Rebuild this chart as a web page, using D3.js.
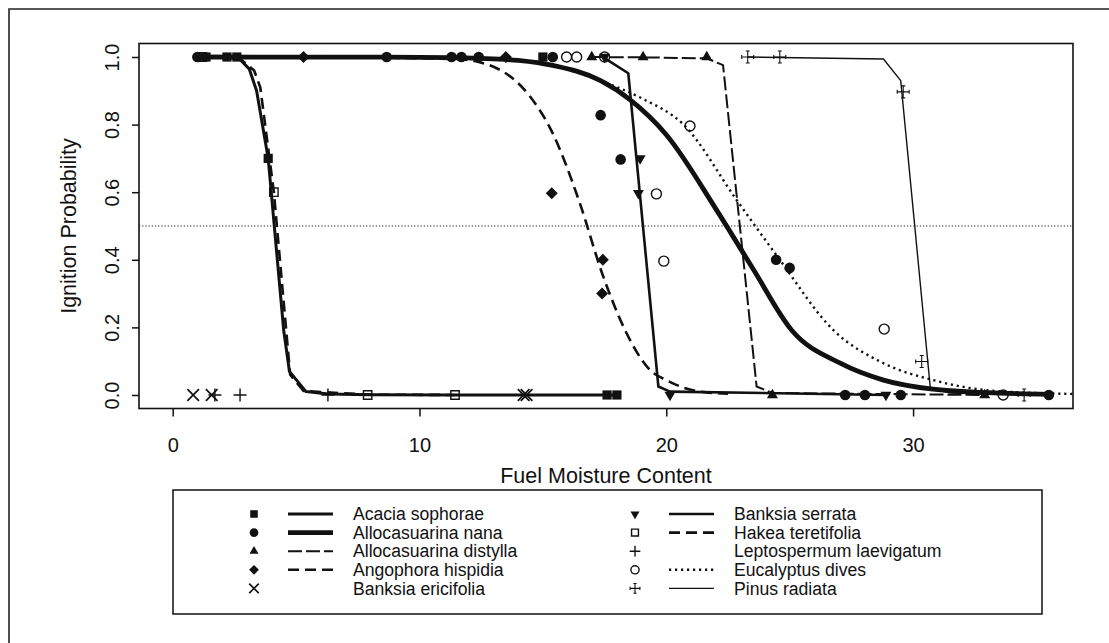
<!DOCTYPE html>
<html><head><meta charset="utf-8">
<script src="https://cdn.jsdelivr.net/npm/d3@7"></script>
<style>
body{margin:0;background:#fff}
svg{display:block}
text{font-family:"Liberation Sans",Arimo,Arial,Helvetica,sans-serif;fill:#111}
</style>
</head><body>
<svg id="c" width="1109" height="643"></svg>
<script>
// ---------------- DATA ----------------
const speciesNames = ["Acacia sophorae","Allocasuarina nana","Allocasuarina distylla","Angophora hispidia","Banksia ericifolia",
                      "Banksia serrata","Hakea teretifolia","Leptospermum laevigatum","Eucalyptus dives","Pinus radiata"];
const xTicks = [0, 10, 20, 30];
const yTicks = [0.0, 0.2, 0.4, 0.6, 0.8, 1.0];
const xAxisTitle = "Fuel Moisture Content";
const yAxisTitle = "Ignition Probability";
const refLevel = 0.5;

// observed points [moisture, ignition]
const acaciaPoints     = [[1.35,1],[2.2,1],[2.6,1],[3.87,0.70],[15.0,1],[17.6,0],[18.0,0]];
const nanaPoints       = [[1.0,1],[8.67,1],[11.3,1],[11.7,1],[12.4,1],[15.4,1],[17.34,0.828],[18.15,0.697],[24.45,0.40],[25.0,0.376],[27.25,0],[28.05,0],[29.5,0],[35.5,0]];
const distyllaPoints   = [[16.98,1],[19.06,1],[21.64,1],[24.3,0],[32.9,0]];
const angophoraPoints  = [[5.3,1],[13.5,1],[15.36,0.597],[17.43,0.40],[17.4,0.30]];
const ericifoliaPoints = [[0.83,0],[1.58,0],[14.22,0],[14.34,0]];
const serrataPoints    = [[17.5,1],[18.94,0.70],[18.87,0.597],[20.15,0],[28.9,0]];
const hakeaPoints      = [[1.2,1],[4.1,0.60],[7.9,0],[11.44,0]];
const leptoPoints      = [[1.71,0],[2.73,0],[6.29,0]];
const divesPoints      = [[15.96,1],[16.37,1],[17.5,1],[19.6,0.595],[19.9,0.396],[20.96,0.796],[28.83,0.195],[33.65,0]];
const pinusPoints      = [[23.3,1],[24.6,1],[29.6,0.897],[30.35,0.099],[34.5,0]];

// fitted curves [moisture, probability]
const acaciaCurve    = [[1.35,1],[2.2,1],[2.7,0.995],[3.1,0.965],[3.4,0.90],[3.87,0.70],[4.5,0.19],[4.73,0.07],[5.4,0.01],[6.3,0.003],[8,0.001],[11.4,0],[17.6,0],[18,0]];
const nanaCurve      = [[1.0,1],[8.67,0.9995],[11.3,0.998],[12.4,0.996],[14.0,0.99],[15.4,0.975],[17.34,0.93],[18.54,0.873],[20.0,0.77],[22.04,0.547],[23.5,0.375],[25.1,0.19],[27.05,0.094],[28.8,0.044],[30.8,0.017],[33,0.007],[35.5,0.002]];
const distyllaCurve  = [[16.98,1],[19.06,0.999],[21.64,0.996],[22.3,0.976],[23.66,0.025],[24.3,0.006],[32.9,0]];
const angophoraCurve = [[5.3,1],[11.5,0.994],[13.0,0.971],[14.48,0.883],[15.36,0.78],[16.5,0.567],[17.4,0.36],[18.33,0.192],[19.34,0.074],[20.0,0.044],[21.37,0.01],[22.5,0.004]];
const serrataCurve   = [[17.5,0.997],[18.46,0.952],[19.68,0.025],[20.15,0.01],[28.9,0]];
const hakeaCurve     = [[1.2,1],[2.7,0.997],[3.3,0.96],[3.55,0.91],[4.1,0.60],[4.76,0.06],[5.3,0.012],[7.9,0.001],[11.44,0]];
const divesCurve     = [[15.96,0.965],[17.5,0.925],[19.0,0.878],[20.7,0.80],[22.85,0.577],[24.5,0.41],[26.77,0.192],[28.8,0.094],[30.82,0.044],[32.85,0.015],[35.0,0.006],[36.45,0.003]];
const pinusCurve     = [[23.3,1],[28.8,0.994],[29.5,0.93],[30.7,0.02],[31.5,0.006],[34.5,0]];

const pointsBySpecies = [acaciaPoints,nanaPoints,distyllaPoints,angophoraPoints,ericifoliaPoints,serrataPoints,hakeaPoints,leptoPoints,divesPoints,pinusPoints];
const curvesBySpecies = [acaciaCurve,nanaCurve,distyllaCurve,angophoraCurve,null,serrataCurve,hakeaCurve,null,divesCurve,pinusCurve];

// ---------------- STYLE ----------------
const styles = [
  {sym:"fsquare", w:3.0, dash:null, curve:"linear"},
  {sym:"fcircle", w:4.8, dash:null, curve:"smooth"},
  {sym:"ftriup",  w:2.0, dash:"14,4", curve:"linear"},
  {sym:"fdiamond",w:2.6, dash:"11,6", curve:"smooth"},
  {sym:"times",   w:0},
  {sym:"ftridown",w:2.6, dash:null, curve:"linear"},
  {sym:"osquare", w:2.6, dash:"11,6", curve:"linear"},
  {sym:"plus",    w:0},
  {sym:"ocircle", w:2.4, dash:"2.2,3.8", curve:"smooth"},
  {sym:"pinus",   w:1.4, dash:null, curve:"linear"}
];

const svg = d3.select("#c");
const x = d3.scaleLinear().domain([-1.365, 36.48]).range([139, 1073]);
const y = d3.scaleLinear().domain([-0.04, 1.04]).range([408.5, 43.5]);

// outer frame (partial, as cropped)
svg.append("path").attr("d","M9,643V9H1109").attr("fill","none").attr("stroke","#222").attr("stroke-width",1.6);

// symbol drawing
function drawSymbol(g, type, cx, cy, k){
  k = k || 1;
  const t = `translate(${cx},${cy})`;
  const ink = "#111";
  if(type==="fsquare"){ const s=4.6*k; g.append("path").attr("transform",t).attr("d",`M${-s},${-s}H${s}V${s}H${-s}Z`).attr("fill",ink); }
  else if(type==="fcircle"){ const r=5.3*k; g.append("circle").attr("cx",cx).attr("cy",cy).attr("r",r).attr("fill",ink); }
  else if(type==="ftriup"||type==="ftridown"){ const a=11*k, h=a*0.866, sg=type==="ftriup"?1:-1;
    g.append("path").attr("transform",t).attr("d",`M0,${-sg*2*h/3}L${a/2},${sg*h/3}L${-a/2},${sg*h/3}Z`).attr("fill",ink); }
  else if(type==="fdiamond"){ const r=6*k; g.append("path").attr("transform",t).attr("d",`M0,${-r}L${r},0L0,${r}L${-r},0Z`).attr("fill",ink); }
  else if(type==="times"){ const r=5.8*k; g.append("path").attr("transform",t).attr("d",`M${-r},${-r}L${r},${r}M${r},${-r}L${-r},${r}`).attr("stroke",ink).attr("stroke-width",1.7).attr("fill","none"); }
  else if(type==="plus"){ const r=6.5*k; g.append("path").attr("transform",t).attr("d",`M${-r},0H${r}M0,${-r}V${r}`).attr("stroke",ink).attr("stroke-width",1.4).attr("fill","none"); }
  else if(type==="osquare"){ const s=4.2*k; g.append("path").attr("transform",t).attr("d",`M${-s},${-s}H${s}V${s}H${-s}Z`).attr("stroke",ink).attr("stroke-width",1.4).attr("fill","none"); }
  else if(type==="ocircle"){ const r=5*k; g.append("circle").attr("cx",cx).attr("cy",cy).attr("r",r).attr("stroke",ink).attr("stroke-width",1.4).attr("fill","none"); }
  else if(type==="pinus"){ const r=6*k, e=2*k; g.append("path").attr("transform",t)
      .attr("d",`M${-r},0H${r}M0,${-r}V${r}M${-e},${-r}H${e}M${-e},${r}H${e}M${-r},${-e}V${e}M${r},${-e}V${e}`)
      .attr("stroke",ink).attr("stroke-width",1.1).attr("fill","none"); }
}

// plot box
svg.append("rect").attr("x",x.range()[0]).attr("y",y.range()[1])
   .attr("width",x.range()[1]-x.range()[0]).attr("height",y.range()[0]-y.range()[1])
   .attr("fill","none").attr("stroke","#111").attr("stroke-width",1.6);

// reference line at 0.5
svg.append("line").attr("x1",x.range()[0]).attr("x2",x.range()[1]).attr("y1",y(refLevel)).attr("y2",y(refLevel))
   .attr("stroke","#222").attr("stroke-width",1).attr("stroke-dasharray","1.2,2");

// axes
const gx = svg.append("g").attr("transform",`translate(0,${y.range()[0]})`)
  .call(d3.axisBottom(x).tickValues(xTicks).tickSize(8).tickFormat(d3.format("d")));
gx.select(".domain").remove();
gx.selectAll("line").attr("stroke","#111").attr("stroke-width",1.5);
gx.selectAll("text").attr("y",36.5).attr("dy","0.35em").style("font-size","20px").attr("fill","#111");

const gy = svg.append("g").attr("transform",`translate(${x.range()[0]},0)`)
  .call(d3.axisLeft(y).tickValues(yTicks).tickSize(7).tickFormat(d3.format(".1f")));
gy.select(".domain").remove();
gy.selectAll("line").attr("stroke","#111").attr("stroke-width",1.5);
gy.selectAll("text").attr("x",0).attr("dy","0.35em").attr("text-anchor","middle")
  .attr("transform","translate(-27,0) rotate(-90)").style("font-size","20px").attr("fill","#111");

svg.append("text").attr("x",(x.range()[0]+x.range()[1])/2).attr("y",475).attr("dy","0.35em")
   .attr("text-anchor","middle").style("font-size","21.5px").text(xAxisTitle);
svg.append("text").attr("transform",`translate(68,${(y.range()[0]+y.range()[1])/2}) rotate(-90)`).attr("dy","0.35em")
   .attr("text-anchor","middle").style("font-size","21.5px").text(yAxisTitle);

// curves
const plot = svg.append("g");
curvesBySpecies.forEach((c,i)=>{
  if(!c) return;
  const st = styles[i];
  const line = d3.line().x(d=>x(d[0])).y(d=>y(d[1])).curve(st.curve==="smooth"?d3.curveMonotoneX:d3.curveLinear);
  plot.append("path").attr("d",line(c)).attr("fill","none").attr("stroke","#111")
      .attr("stroke-width",st.w).attr("stroke-dasharray",st.dash).attr("stroke-linejoin","round");
});
// points
pointsBySpecies.forEach((p,i)=>{
  p.forEach(d=>drawSymbol(plot, styles[i].sym, x(d[0]), y(d[1]), 1));
});

// legend
const legX0 = 173, legX1 = 1042, legY0 = 490, legY1 = 614;
svg.append("rect").attr("x",legX0).attr("y",legY0).attr("width",legX1-legX0).attr("height",legY1-legY0)
   .attr("fill","none").attr("stroke","#111").attr("stroke-width",1.5);
const cols = [{sym:254, l0:288, l1:333, tx:353},{sym:635, l0:669, l1:714, tx:734}];
const leg = svg.append("g");
speciesNames.forEach((name,i)=>{
  const c = cols[Math.floor(i/5)], ry = 514 + (i%5)*18.6, st = styles[i];
  drawSymbol(leg, st.sym, c.sym, ry, 0.82);
  if(st.w>0) leg.append("line").attr("x1",c.l0).attr("x2",c.l1).attr("y1",ry).attr("y2",ry)
      .attr("stroke","#111").attr("stroke-width",st.w).attr("stroke-dasharray",st.dash);
  leg.append("text").attr("x",c.tx).attr("y",ry).attr("dy","0.35em").style("font-size","17.6px").text(name);
});
</script>
</body></html>
